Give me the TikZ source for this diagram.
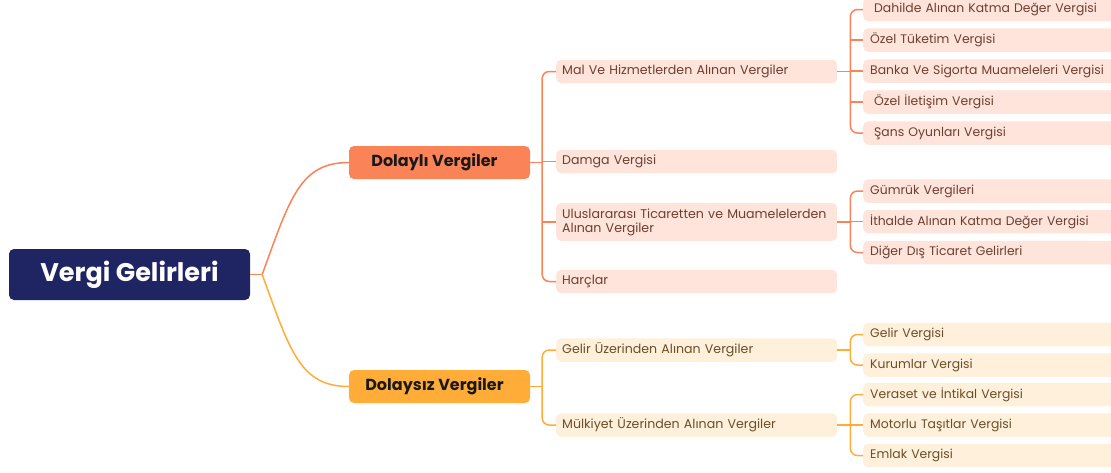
\documentclass[tikz,border=0pt]{standalone}
\usepackage{fontspec}
\setmainfont{Poppins}
\usetikzlibrary{calc}
\definecolor{navy}{HTML}{1F2462}
\definecolor{orA}{HTML}{FA8358}
\definecolor{orB}{HTML}{FFAD38}
\definecolor{fillA}{HTML}{FEE4DA}
\definecolor{fillB}{HTML}{FEF0DA}
\definecolor{txtA}{HTML}{6E3F31}
\definecolor{txtB}{HTML}{6B4E2A}
\tikzset{
  rootbox/.style={fill=navy, text=white, rounded corners=5pt, minimum width=241, minimum height=51, inner sep=0pt, font=\fontsize{25.5}{30}\selectfont\bfseries},
  lonebox/.style={rounded corners=5pt, minimum width=181, minimum height=33, inner sep=0pt, text=black!90, font=\fontsize{16}{19}\selectfont\bfseries},
  twobox/.style={rounded corners=5pt, inner xsep=6pt, inner ysep=0pt, text width=269pt, align=left, minimum height=23.5pt, anchor=west, font=\fontsize{12.6}{14}\selectfont},
  threebox/.style={rounded corners=5pt, inner xsep=7pt, inner ysep=0pt, text width=244pt, align=left, minimum height=23.5pt, anchor=west, font=\fontsize{12.4}{14}\selectfont},
  linkA/.style={draw=orA, line width=1.5pt},
  linkB/.style={draw=orB, line width=1.5pt},
}
\begin{document}
\begin{tikzpicture}[x=1pt, y=-1pt]
\useasboundingbox (0,0) rectangle (1111,472);
% root and level 1
\node[rootbox] (root) at (129.5,274.5) {Vergi Gelirleri};
\node[lonebox, fill=orA] (dl) at (439.5,162.5) {\hspace*{-10pt}Dolaylı Vergiler};
\node[lonebox, fill=orB] (dz) at (439.5,386.5) {\hspace*{-10pt}Dolaysız Vergiler};
% level 2 upper
\node[twobox, fill=fillA, text=txtA] (mal) at (556,71.5) {Mal Ve Hizmetlerden Alınan Vergiler};
\node[twobox, fill=fillA, text=txtA] (dam) at (556,161.5) {Damga Vergisi};
\node[twobox, fill=fillA, text=txtA, minimum height=38pt] (ulu) at (556,222) {Uluslararası Ticaretten ve Muamelelerden\\Alınan Vergiler};
\node[twobox, fill=fillA, text=txtA] (har) at (556,281.5) {Harçlar};
% level 2 lower
\node[twobox, fill=fillB, text=txtB] (gel) at (556,350) {Gelir Üzerinden Alınan Vergiler};
\node[twobox, fill=fillB, text=txtB] (mul) at (556,425) {Mülkiyet Üzerinden Alınan Vergiler};
% level 3 upper
\node[threebox, fill=fillA, text=txtA] (dah) at (863,9.5) {\hspace*{4pt}Dahilde Alınan Katma Değer Vergisi};
\node[threebox, fill=fillA, text=txtA] (otv) at (863,40) {Özel Tüketim Vergisi};
\node[threebox, fill=fillA, text=txtA] (ban) at (863,71) {Banka Ve Sigorta Muameleleri Vergisi};
\node[threebox, fill=fillA, text=txtA] (oil) at (863,102) {\hspace*{4pt}Özel İletişim Vergisi};
\node[threebox, fill=fillA, text=txtA] (san) at (863,133) {\hspace*{4pt}Şans Oyunları Vergisi};
\node[threebox, fill=fillA, text=txtA] (gum) at (863,191) {Gümrük Vergileri};
\node[threebox, fill=fillA, text=txtA] (ith) at (863,221.5) {İthalde Alınan Katma Değer Vergisi};
\node[threebox, fill=fillA, text=txtA] (dig) at (863,252.5) {Diğer Dış Ticaret Gelirleri};
% level 3 lower
\node[threebox, fill=fillB, text=txtB] (gv) at (863,334.5) {Gelir Vergisi};
\node[threebox, fill=fillB, text=txtB] (kv) at (863,365) {Kurumlar Vergisi};
\node[threebox, fill=fillB, text=txtB] (vv) at (863,394.5) {Veraset ve İntikal Vergisi};
\node[threebox, fill=fillB, text=txtB] (mv) at (863,425) {Motorlu Taşıtlar Vergisi};
\node[threebox, fill=fillB, text=txtB] (ev) at (863,455.5) {Emlak Vergisi};
% junction points
\coordinate (rj) at ($(root.east)+(12,0)$);
\coordinate (jA) at ($(dl.east)+(12,0)$);
\coordinate (jB) at ($(dz.east)+(12,0)$);
\coordinate (jM) at ($(mal.east)+(13,0)$);
\coordinate (jU) at ($(ulu.east)+(13,0)$);
\coordinate (jG) at ($(gel.east)+(13,0)$);
\coordinate (jK) at ($(mul.east)+(13,0)$);
% root connectors
\draw[linkA] (root.east) -- (rj);
\draw[linkA] (rj) .. controls (290,198) and (300,162.5) .. (dl.west);
\draw[linkB] (rj) .. controls (290,351) and (300,386.5) .. (dz.west);
% level 1 -> 2
\draw[linkA] (dl.east) -- (jA);
\draw[linkA, rounded corners=7pt] (mal.west) -| (jA) |- (har.west);
\draw[linkA] (dam.west) -- (dam.west -| jA);
\draw[linkA] (ulu.west) -- (ulu.west -| jA);
\draw[linkB] (dz.east) -- (jB);
\draw[linkB, rounded corners=7pt] (gel.west) -| (jB) |- (mul.west);
% level 2 -> 3
\draw[linkA] (mal.east) -- (jM);
\draw[linkA, rounded corners=7pt] (dah.west) -| (jM) |- (san.west);
\draw[linkA] (otv.west) -- (otv.west -| jM);
\draw[linkA] (ban.west) -- (ban.west -| jM);
\draw[linkA] (oil.west) -- (oil.west -| jM);
\draw[linkA] (ulu.east) -- (jU);
\draw[linkA, rounded corners=7pt] (gum.west) -| (jU) |- (dig.west);
\draw[linkA] (ith.west) -- (ith.west -| jU);
\draw[linkB] (gel.east) -- (jG);
\draw[linkB, rounded corners=7pt] (gv.west) -| (jG) |- (kv.west);
\draw[linkB] (mul.east) -- (jK);
\draw[linkB, rounded corners=7pt] (vv.west) -| (jK) |- (ev.west);
\draw[linkB] (mv.west) -- (mv.west -| jK);
\end{tikzpicture}
\end{document}
